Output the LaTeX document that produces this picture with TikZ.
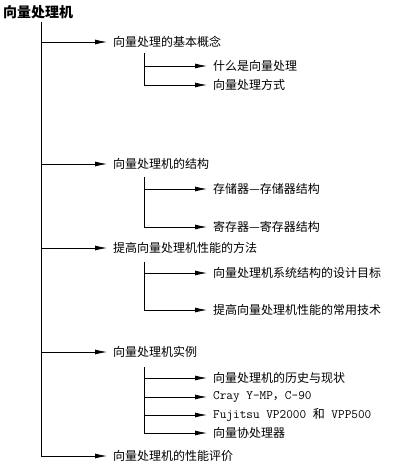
\documentclass[tikz,border=0pt]{standalone}
\usepackage{fontspec}
\setmainfont{Noto Sans CJK SC}
\usetikzlibrary{arrows.meta}
\newcommand\mymono[1]{{\ttfamily\fontsize{12.9}{14}\selectfont #1}}
\begin{document}
\begin{tikzpicture}[x=1pt,y=-1pt,
  lv/.style={anchor=west,inner sep=0pt,font=\fontsize{12}{14}\selectfont},
  ttl/.style={anchor=west,inner sep=0pt,font=\fontsize{14}{16}\selectfont\bfseries},
  ln/.style={line width=0.8pt},
  arr/.style={ln,-{Latex[length=12pt,width=5pt]},shorten >=6pt}
]
\useasboundingbox (0,0) rectangle (415,469);
\fill[white] (0,0) rectangle (415,469);
\node[ttl] (root) at (3,12) {向量处理机};
\coordinate (t0) at (41,22);
% level 1
\node[lv] (a) at (113,42) {向量处理的基本概念};
\node[lv] (b) at (113,164) {向量处理机的结构};
\node[lv] (c) at (113,248) {提高向量处理机性能的方法};
\node[lv] (d) at (113,352) {向量处理机实例};
\node[lv] (e) at (113,456) {向量处理机的性能评价};
% level 2
\node[lv] (a1) at (213,66) {什么是向量处理};
\node[lv] (a2) at (213,85) {向量处理方式};
\node[lv] (b1) at (213,189) {存储器—存储器结构};
\node[lv] (b2) at (213,227) {寄存器—寄存器结构};
\node[lv] (c1) at (213,273) {向量处理机系统结构的设计目标};
\node[lv] (c2) at (213,310) {提高向量处理机性能的常用技术};
\node[lv] (d1) at (213,378) {向量处理机的历史与现状};
\node[lv] (d2) at (213,397) {\mymono{Cray Y-MP}，\mymono{C-90}};
\node[lv] (d3) at (213,415) {\mymono{Fujitsu VP2000 }和\mymono{ VPP500}};
\node[lv] (d4) at (213,433) {向量协处理器};
% trunk
\draw[ln] (t0) -- (t0 |- e.west);
\foreach \n in {a,b,c,d,e} \draw[arr] (t0 |- \n.west) -- (\n.west);
% sub trunks
\coordinate (sa) at (144,53);
\coordinate (sb) at (144,177);
\coordinate (sc) at (144,262);
\coordinate (sd) at (144,367);
\draw[ln] (sa) -- (sa |- a2.west);
\draw[ln] (sb) -- (sb |- b2.west);
\draw[ln] (sc) -- (sc |- c2.west);
\draw[ln] (sd) -- (sd |- d4.west);
\foreach \n in {a1,a2} \draw[arr] (sa |- \n.west) -- (\n.west);
\foreach \n in {b1,b2} \draw[arr] (sb |- \n.west) -- (\n.west);
\foreach \n in {c1,c2} \draw[arr] (sc |- \n.west) -- (\n.west);
\foreach \n in {d1,d2,d3,d4} \draw[arr] (sd |- \n.west) -- (\n.west);
\end{tikzpicture}
\end{document}
